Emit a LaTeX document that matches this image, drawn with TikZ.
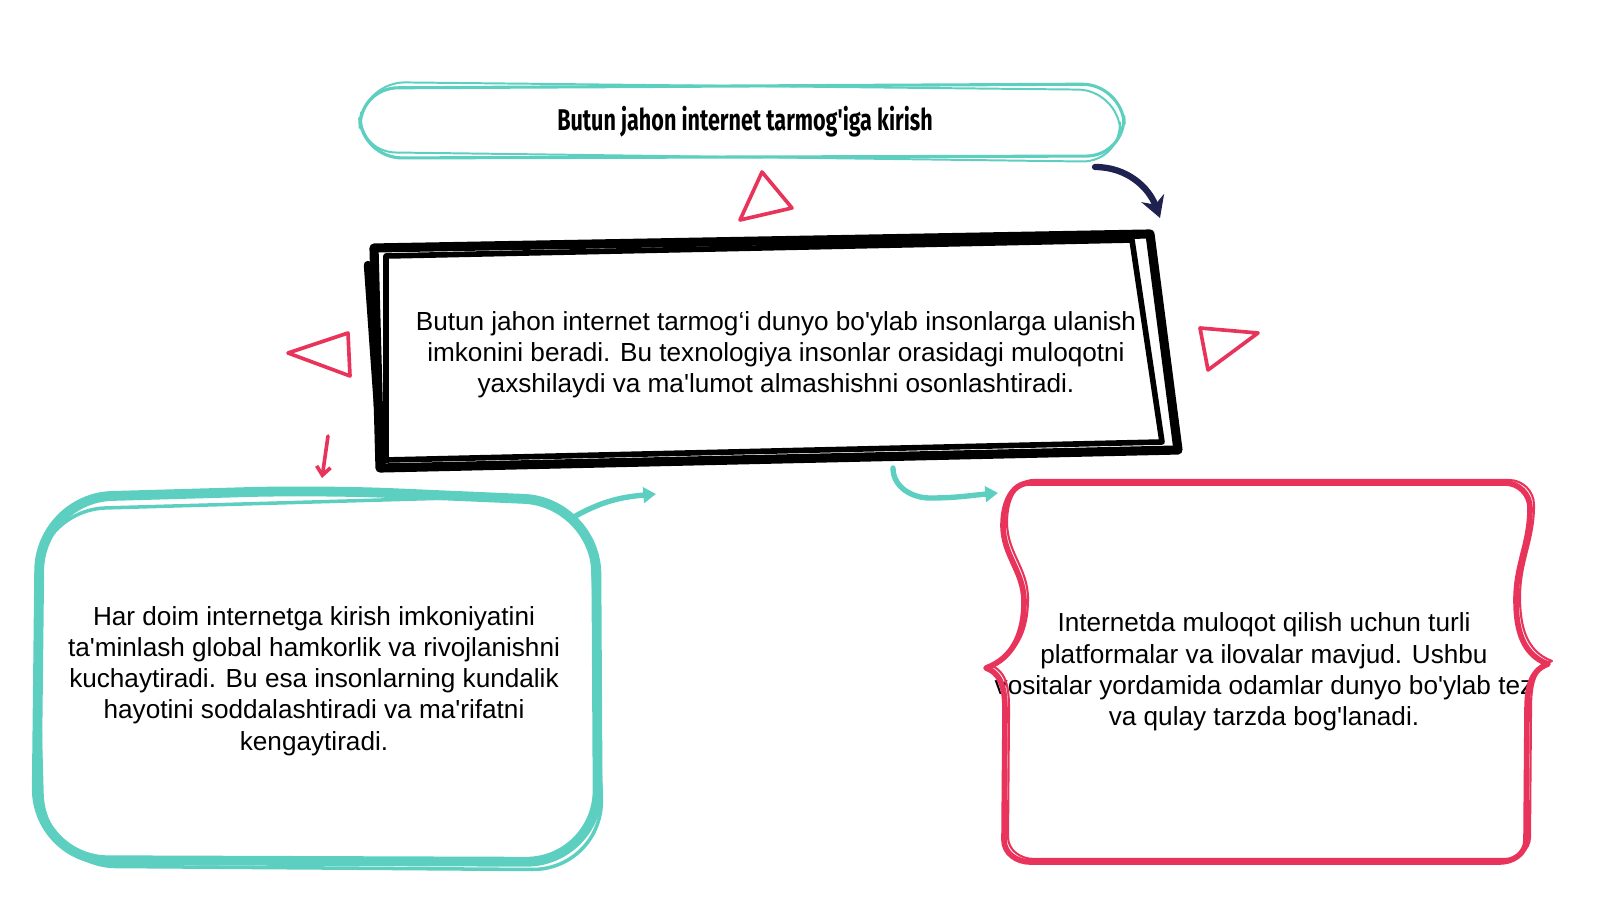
\documentclass[tikz,border=0pt]{standalone}
\usepackage{fontspec}
\newfontfamily\bodyfont{Liberation Sans}
\newfontfamily\titlefont[FakeStretch=0.72]{Fira Sans}
\usetikzlibrary{arrows.meta, positioning}
\definecolor{sketchteal}{HTML}{5CCFC0}
\definecolor{sketchred}{HTML}{E8345A}
\definecolor{sketchnavy}{HTML}{1F2150}

\begin{document}
\begin{tikzpicture}[x=0.025cm, y=-0.025cm, line cap=round, line join=round,
  text node/.style={align=center, font=\bodyfont\fontsize{18.6}{22.2}\selectfont},
  title node/.style={font=\titlefont\bfseries\fontsize{21.3}{24}\selectfont},
  tri/.style={draw=sketchred, line width=2.6pt},
  teal arrow/.style={draw=sketchteal, line width=3.8pt, -{Triangle[length=9pt, width=11pt]}}]
\useasboundingbox (0,0) rectangle (1600,900);

\node[title node](title) at (745,122) {Butun jahon internet tarmog'iga kirish};
\node[text node](main) at (776,355) {Butun jahon internet tarmog‘i dunyo bo'ylab insonlarga ulanish\\imkonini beradi. Bu texnologiya insonlar orasidagi muloqotni\\yaxshilaydi va ma'lumot almashishni osonlashtiradi.};
\node[text node](access) at (314,681) {Har doim internetga kirish imkoniyatini\\ta'minlash global hamkorlik va rivojlanishni\\kuchaytiradi. Bu esa insonlarning kundalik\\hayotini soddalashtiradi va ma'rifatni\\kengaytiradi.};
\node[text node](tools) at (1264,672) {Internetda muloqot qilish uchun turli\\platformalar va ilovalar mavjud. Ushbu\\vositalar yordamida odamlar dunyo bo'ylab tez\\va qulay tarzda bog'lanadi.};

\draw[sketchteal, line width=2.2pt, rounded corners=1cm] (358,88) -- (1122,84) -- (1126,156) -- (362,158) -- cycle;
\draw[sketchteal, line width=1.4pt, rounded corners=1cm] (365,82) -- (1118,90) -- (1122,162) -- (356,152) -- cycle;

\draw[black, line width=6.5pt] (374,248) -- (1150,234) -- (1178,450) -- (380,468) -- cycle;
\draw[black, line width=4pt] (386,256) -- (1132,240) -- (1162,442) -- (386,460) -- cycle;
\draw[black, line width=6pt] (368,265) -- (382,462);

\draw[sketchteal, line width=7pt, rounded corners=1.8cm] (40,498) -- (320,490) -- (596,502) -- (598,862) -- (36,860) -- cycle;
\draw[sketchteal, line width=2.5pt, rounded corners=1.8cm] (34,510) -- (590,494) -- (604,870) -- (44,866) -- cycle;

\foreach \dx/\dy/\w in {0/0/4pt, 4/-3/1.5pt}{
\draw[sketchred, line width=\w, shift={(\dx,\dy)}] (1030,483) -- (1505,483) to[out=0, in=90] (1530,508)
  to[out=-90, in=90] (1516,600) to[out=-90, in=160] (1548,664) to[out=-160, in=90] (1527,712) -- (1526,840)
  to[out=-90, in=0] (1500,862) -- (1030,862) to[out=180, in=-90] (1004,840) -- (1005,714)
  to[out=90, in=-20] (986,668) to[out=20, in=-90] (1024,602) to[out=90, in=-90] (1003,525)
  to[out=90, in=180] cycle;}

\foreach \xa/\ya/\xb/\yb/\xc/\yc in {762/172/792/208/740/220, 348/333/288/353/350/376, 1200/328/1258/333/1208/370}{
    \draw[tri] (\xa,\ya) -- (\xb,\yb) -- (\xc,\yc) -- cycle;}

\coordinate (navy start) at (1095,167);
\coordinate (navy end) at (1160,218);
\draw[sketchnavy, line width=4.5pt, -{Stealth[length=15pt, width=17pt]}] (navy start) to[out=0, in=110] (navy end);

\coordinate (red start) at (328,436);
\coordinate (red end) at (322,478);
\draw[sketchred, line width=2.6pt, -{Straight Barb[length=6pt, width=10pt]}] (red start) -- (red end);

\coordinate (curve start) at (572,518);
\coordinate (curve end) at (656,494);
\draw[teal arrow] (curve start) to[out=30, in=185] (curve end);

\coordinate (bend start) at (893,468);
\coordinate (bend end) at (998,493);
\draw[teal arrow] (bend start) to[out=-90, in=180] (930,498) to[out=0, in=185] (bend end);
\end{tikzpicture}
\end{document}
